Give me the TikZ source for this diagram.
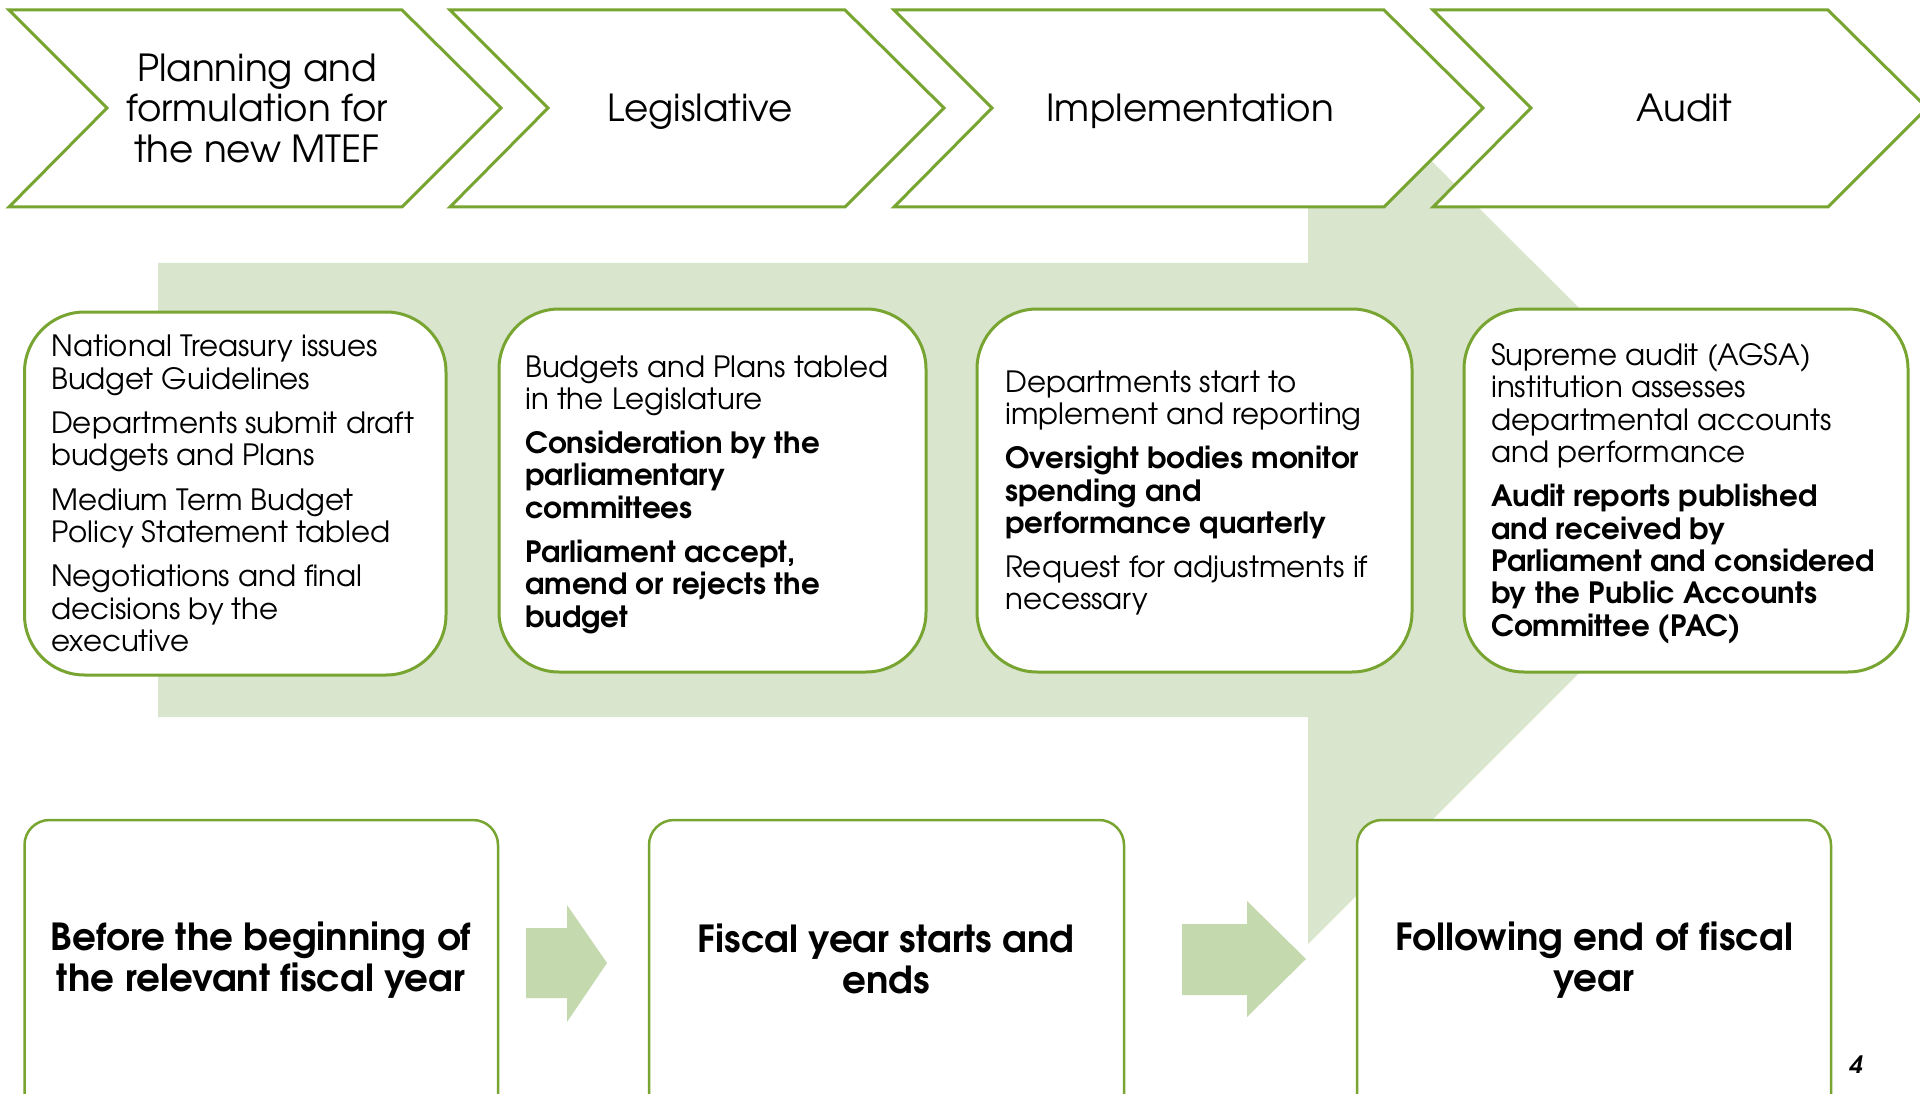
\documentclass[tikz,border=0pt]{standalone}
\usepackage{fontspec}
\setmainfont{texgyreadventor}[Extension=.otf, UprightFont=*-regular, BoldFont=*-bold, ItalicFont=*-italic, BoldItalicFont=*-bolditalic]
\definecolor{gstroke}{HTML}{78A532}
\definecolor{gbig}{HTML}{D9E5CD}
\definecolor{gsmall}{HTML}{C5D9AF}
\tikzset{
  chev/.style={draw=gstroke, line width=3pt, fill=white, line join=miter},
  chevtext/.style={font=\fontsize{37.3}{40.5}\selectfont, align=center, inner sep=0pt},
  chevone/.style={font=\fontsize{37.3}{40.5}\selectfont, anchor=base, inner sep=0pt},
  midbox/.style={draw=gstroke, line width=3pt, fill=white, rounded corners=60pt, inner sep=0pt},
  midtext/.style={font=\fontsize{29.3}{32.3}\selectfont, align=left, anchor=west, inner sep=0pt},
  botbox/.style={draw=gstroke, line width=2.5pt, fill=white, rounded corners=25pt, inner sep=0pt},
  bottext/.style={font=\bfseries\fontsize{37.3}{40.5}\selectfont, align=center, inner sep=0pt},
  smallarrow/.style={fill=gsmall},
}
\begin{document}
\begin{tikzpicture}[x=1pt,y=-1pt]
\useasboundingbox[fill=white] (0,0) rectangle (1920,1094);
% big background arrow
\fill[gbig] (158,263) -- (1308,263) -- (1308,38) -- (1762,490) -- (1308,944) -- (1308,717) -- (158,717) -- cycle;
% chevrons
\draw[chev] (9,10) -- (402,10) -- (501,108) -- (402,207) -- (9,207) -- (107,108) -- cycle;
\draw[chev] (450,10) -- (845,10) -- (944,108) -- (845,207) -- (450,207) -- (548,108) -- cycle;
\draw[chev] (894,10) -- (1384,10) -- (1483,108) -- (1384,207) -- (894,207) -- (992,108) -- cycle;
\draw[chev] (1433,10) -- (1828,10) -- (1927,108) -- (1828,207) -- (1433,207) -- (1531,108) -- cycle;
\node[chevtext] (c1) at (257,108) {Planning and\\formulation for\\the new MTEF};
\node[chevone] (c2) at (700,122) {Legislative};
\node[chevone] (c3) at (1190,122) {Implementation};
\node[chevone] (c4) at (1684,122) {Audit};
% middle boxes
\node[midbox, minimum width=421.5pt, minimum height=363pt] (b1) at (235.25,493.5) {};
\node[midbox, minimum width=427pt, minimum height=363pt] (b2) at (712.5,490.5) {};
\node[midbox, minimum width=435pt, minimum height=363pt] (b3) at (1194.5,490.5) {};
\node[midbox, minimum width=444pt, minimum height=363pt] (b4) at (1686,490.5) {};
\node[midtext] (t1) at (51,493.5) {National Treasury issues\\Budget Guidelines\\[12pt]Departments submit draft\\budgets and Plans\\[12pt]Medium Term Budget\\Policy Statement tabled\\[12pt]Negotiations and final\\decisions by the\\executive};
\node[midtext] (t2) at (525,494.5) {Budgets and Plans tabled\\in the Legislature\\[12pt]\textbf{Consideration by the}\\\textbf{parliamentary}\\\textbf{committees}\\[12pt]\textbf{Parliament accept,}\\\textbf{amend or rejects the}\\\textbf{budget}};
\node[midtext] (t3) at (1005,493) {Departments start to\\implement and reporting\\[12pt]\textbf{Oversight bodies monitor}\\\textbf{spending and}\\\textbf{performance quarterly}\\[12pt]Request for adjustments if\\necessary};
\node[midtext] (t4) at (1491,493.5) {Supreme audit (AGSA)\\institution assesses\\departmental accounts\\and performance\\[12pt]\textbf{Audit reports published}\\\textbf{and received by}\\\textbf{Parliament and considered}\\\textbf{by the Public Accounts}\\\textbf{Committee (PAC)}};
% bottom boxes
\node[botbox, minimum width=473.5pt, minimum height=300pt] (p1) at (261.25,970) {};
\node[botbox, minimum width=475pt, minimum height=300pt] (p2) at (886.5,970) {};
\node[botbox, minimum width=474pt, minimum height=300pt] (p3) at (1594,970) {};
\node[bottext] (q1) at (261,960) {Before the beginning of\\the relevant fiscal year};
\node[bottext] (q2) at (886,959) {Fiscal year starts and\\ends};
\node[bottext] (q3) at (1594,960) {Following end of fiscal\\year};
% small arrows
\fill[smallarrow] (526,928) -- (567,928) -- (567,905) -- (607,963) -- (567,1022) -- (567,998) -- (526,998) -- cycle;
\fill[smallarrow] (1182,924) -- (1247,924) -- (1247,901) -- (1306,959) -- (1247,1017) -- (1247,995) -- (1182,995) -- cycle;
% page number
\node[font=\bfseries\itshape\fontsize{24}{28}\selectfont, inner sep=0pt] (pg) at (1856,1065) {4};
\end{tikzpicture}
\end{document}
